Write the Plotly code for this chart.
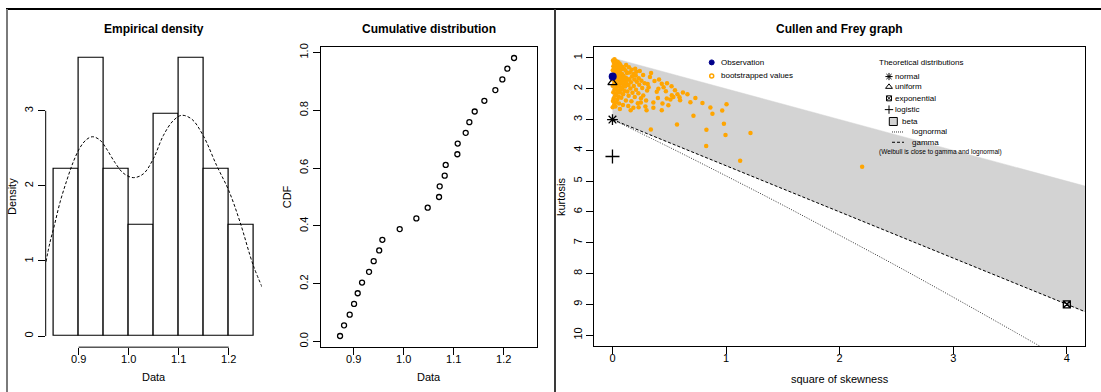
import plotly.graph_objects as go

W, H = 1101, 392
FONT = "Liberation Sans, Arial, Helvetica, sans-serif"

# ---------------- data ----------------
data_values = [0.8727, 0.8807, 0.892, 0.9007, 0.908, 0.9167, 0.9307, 0.94, 0.951,
               0.9573, 0.992, 1.0253, 1.048, 1.0707, 1.072, 1.082, 1.084, 1.1073,
               1.108, 1.124, 1.1313, 1.142, 1.1613, 1.1833, 1.1973, 1.2073, 1.2207]
cdf_values = [0.019, 0.056, 0.093, 0.130, 0.167, 0.204, 0.241, 0.278, 0.315,
              0.352, 0.389, 0.426, 0.463, 0.500, 0.537, 0.574, 0.611, 0.648,
              0.685, 0.722, 0.759, 0.796, 0.833, 0.870, 0.907, 0.944, 0.981]

dens_x = [0.8346, 0.8426, 0.8512, 0.8626, 0.876, 0.8892, 0.9026, 0.916, 0.928,
          0.9426, 0.956, 0.9726, 0.9892, 1.0092, 1.0292, 1.0492, 1.0692, 1.0892,
          1.106, 1.126, 1.149, 1.176, 1.2, 1.2226, 1.2492, 1.269]
dens_y = [0.99, 1.25, 1.47, 1.78, 2.07, 2.32, 2.51, 2.62, 2.655,
          2.61, 2.49, 2.31, 2.17, 2.11, 2.16, 2.36, 2.67, 2.87,
          2.94, 2.89, 2.67, 2.27, 1.94, 1.52, 0.94, 0.62]

hist_xticks = [0.9, 1.0, 1.1, 1.2]
hist_xlabels = ["0.9", "1.0", "1.1", "1.2"]
hist_yticks = [0, 1, 2, 3]
cdf_yticks = [0.0, 0.2, 0.4, 0.6, 0.8, 1.0]
cdf_ylabels = ["0.0", "0.2", "0.4", "0.6", "0.8", "1.0"]
cf_xticks = [0, 1, 2, 3, 4]
cf_yticks = [1, 2, 3, 4, 5, 6, 7, 8, 9, 10]

# Cullen & Frey: beta region boundaries, lognormal & gamma lines
limit_s2 = [0, 4.2]
limit_kurt = [1, 5.2]
gamma_s2 = [0, 4.2]
gamma_kurt = [3, 9.3]
lognorm_s2 = [0, 0.5, 1.0, 1.5, 2.0, 2.5, 3.0, 3.5, 3.9]
lognorm_kurt = [3, 3.90, 4.83, 5.78, 6.76, 7.75, 8.77, 9.81, 10.65]

obs_s2 = [0.002]
obs_kurt = [1.60]
normal_pt = ([0], [3])
uniform_pt = ([0], [1.8])
logistic_pt = ([0], [4.2])
expo_pt = ([4], [9])

# bootstrapped (square of skewness, kurtosis) values
boot_s2 = [
    # dense core
    0.005, 0.018, 0.031, 0.012, 0.047, 0.062, 0.024, 0.008, 0.039, 0.071, 0.088, 0.055,
    0.016, 0.003, 0.029, 0.046, 0.077, 0.101, 0.115, 0.064, 0.021, 0.009, 0.037, 0.052,
    0.083, 0.097, 0.128, 0.014, 0.041, 0.069, 0.092, 0.118, 0.005, 0.027, 0.058, 0.079,
    0.106, 0.135, 0.017, 0.044, 0.073, 0.098, 0.121, 0.002, 0.033, 0.061, 0.087, 0.112,
    0.019, 0.049, 0.076, 0.104, 0.007, 0.038, 0.066, 0.094, 0.024, 0.055, 0.011, 0.043,
    0.078, 0.004, 0.031, 0.015, 0.058, 0.002, 0.026,
    # medium
    0.145, 0.168, 0.152, 0.185, 0.172, 0.205, 0.148, 0.193, 0.231, 0.162, 0.214, 0.255,
    0.141, 0.188, 0.236, 0.283, 0.158, 0.207, 0.262, 0.131, 0.176, 0.228, 0.305, 0.142,
    0.196, 0.251, 0.118, 0.167, 0.223, 0.092, 0.139, 0.184, 0.065, 0.271, 0.318, 0.296,
    0.120, 0.210,
    0.33, 0.37, 0.41, 0.45, 0.39, 0.47, 0.51, 0.55, 0.59, 0.62, 0.44, 0.29,
    0.36, 0.25, 0.31, 0.27, 0.24, 0.20, 0.23, 0.16, 0.52, 0.48, 0.40,
    # sparse
    0.340, 0.434, 0.404, 0.522, 0.572, 0.478, 0.360, 0.300, 0.434, 0.492, 0.536,
    0.660, 0.730, 0.686, 0.792, 1.004, 0.862, 0.966, 0.880, 0.713, 0.981, 0.827,
    0.995, 1.215, 0.825, 1.124, 2.198, 0.595, 0.338, 0.568,
]
boot_kurt = [
    # dense core
    1.08, 1.04, 1.11, 1.16, 1.13, 1.18, 1.22, 1.27, 1.25, 1.24, 1.29, 1.31,
    1.34, 1.40, 1.38, 1.42, 1.37, 1.35, 1.41, 1.46, 1.48, 1.55, 1.53, 1.57,
    1.51, 1.58, 1.49, 1.63, 1.66, 1.62, 1.68, 1.64, 1.71, 1.74, 1.72, 1.78,
    1.75, 1.71, 1.82, 1.85, 1.83, 1.88, 1.81, 1.90, 1.94, 1.92, 1.97, 1.93,
    2.02, 2.05, 2.01, 2.07, 2.11, 2.14, 2.12, 2.18, 2.22, 2.26, 2.31, 2.35,
    2.29, 2.40, 2.44, 2.52, 2.48, 2.60, 2.58,
    # medium
    1.30, 1.38, 1.47, 1.52, 1.60, 1.57, 1.69, 1.70, 1.66, 1.79, 1.77, 1.74,
    1.88, 1.91, 1.87, 1.82, 1.99, 2.03, 1.98, 2.09, 2.13, 2.15, 2.06, 2.23,
    2.27, 2.31, 2.38, 2.41, 2.47, 2.53, 2.56, 2.62, 2.66, 2.22, 1.95, 2.38,
    1.23, 1.45,
    1.62, 1.75, 1.70, 1.95, 2.10, 2.08, 2.35, 2.05, 2.28, 2.12, 2.48, 2.58,
    2.62, 2.45, 1.85, 1.55, 1.42, 1.35, 2.60, 2.70, 1.92, 1.82, 2.30,
    # sparse
    1.49, 1.84, 2.00, 2.21, 2.18, 2.32, 2.45, 2.70, 2.70, 2.54, 2.27,
    2.18, 2.30, 2.44, 2.46, 2.50, 2.61, 2.71, 2.81, 2.88, 3.14, 3.33,
    3.50, 3.44, 3.86, 4.34, 4.53, 2.37, 3.32, 3.16,
]

# ---------------- figure ----------------
fig = go.Figure()

# Empirical density
fig.add_trace(go.Histogram(
    x=data_values, xbins=dict(start=0.85, end=1.25, size=0.05),
    histnorm="probability density",
    marker=dict(color="white", line=dict(color="black", width=1.2)),
    xaxis="x", yaxis="y", hoverinfo="skip"))
fig.add_trace(go.Scatter(
    x=dens_x, y=dens_y, mode="lines",
    line=dict(color="black", width=1, dash="3px,2px", shape="spline"),
    xaxis="x", yaxis="y"))

# Cumulative distribution
fig.add_trace(go.Scatter(
    x=data_values, y=cdf_values, mode="markers",
    marker=dict(symbol="circle-open", size=5, color="black", line=dict(width=1.3)),
    xaxis="x2", yaxis="y2"))

# Cullen and Frey
fig.add_trace(go.Scatter(
    x=limit_s2 + gamma_s2[::-1], y=limit_kurt + gamma_kurt[::-1],
    mode="lines", fill="toself", fillcolor="#D3D3D3",
    line=dict(color="#D3D3D3", width=0.5), xaxis="x3", yaxis="y3"))
fig.add_trace(go.Scatter(
    x=lognorm_s2, y=lognorm_kurt, mode="lines",
    line=dict(color="black", width=0.8, dash="1px,1.5px", shape="spline"),
    xaxis="x3", yaxis="y3"))
fig.add_trace(go.Scatter(
    x=gamma_s2, y=gamma_kurt, mode="lines",
    line=dict(color="black", width=1, dash="3px,2px"),
    xaxis="x3", yaxis="y3"))
fig.add_trace(go.Scatter(
    x=boot_s2, y=boot_kurt, mode="markers",
    marker=dict(symbol="circle", size=4.5, color="#FFA500"),
    xaxis="x3", yaxis="y3"))
for (px, py), sym, sz in [(normal_pt, "asterisk-open", 9), (uniform_pt, "triangle-up-open", 8),
                          (logistic_pt, "cross-thin-open", 10), (expo_pt, "square-x-open", 7)]:
    fig.add_trace(go.Scatter(
        x=px, y=py, mode="markers",
        marker=dict(symbol=sym, size=sz, color="black", line=dict(width=1.3, color="black")),
        xaxis="x3", yaxis="y3", cliponaxis=False))
fig.add_trace(go.Scatter(
    x=obs_s2, y=obs_kurt, mode="markers",
    marker=dict(symbol="circle", size=8, color="#00008B"),
    xaxis="x3", yaxis="y3", cliponaxis=False))

# ---------- legend glyphs in pixel space (overlay axis) ----------
leg_markers = [
    (711.7, 59.0, "circle", 5, "#00008B", 1),
    (711.7, 72.7, "circle-open", 4, "#FFA500", 1.5),
    (889.0, 73.3, "asterisk-open", 6, "black", 1),
    (889.0, 83.7, "triangle-up-open", 6, "black", 1),
    (889.0, 95.3, "square-x-open", 5, "black", 1),
    (889.0, 106.7, "cross-thin-open", 6, "black", 1),
]
for x, y, sym, sz, col, lw in leg_markers:
    fig.add_trace(go.Scatter(x=[x], y=[y], mode="markers",
                             marker=dict(symbol=sym, size=sz, color=col, line=dict(width=lw, color=col)),
                             xaxis="x4", yaxis="y4", cliponaxis=False))
fig.add_trace(go.Scatter(x=[893.3], y=[118.7], mode="markers",
                         marker=dict(symbol="square", size=8, color="#D3D3D3", line=dict(width=1, color="black")),
                         xaxis="x4", yaxis="y4", cliponaxis=False))
fig.add_trace(go.Scatter(x=[892, 904], y=[129.3, 129.3], mode="lines",
                         line=dict(color="black", width=0.8, dash="1px,1px"), xaxis="x4", yaxis="y4"))
fig.add_trace(go.Scatter(x=[892, 904], y=[139.7, 139.7], mode="lines",
                         line=dict(color="black", width=1, dash="3px,2px"), xaxis="x4", yaxis="y4"))

def px2x(p):
    return p / W

def py2y(p):
    return 1 - p / H

axis_common = dict(showgrid=False, zeroline=False, ticks="outside", ticklen=7,
                   tickwidth=1, tickcolor="black", tickfont=dict(size=11, color="black", family=FONT),
                   fixedrange=True)

fig.update_layout(
    width=W, height=H, margin=dict(l=0, r=0, t=0, b=0),
    paper_bgcolor="white", plot_bgcolor="rgba(0,0,0,0)",
    showlegend=False, bargap=0,
    font=dict(family=FONT, size=11, color="black"),
    xaxis=dict(domain=[px2x(45.7), px2x(261.7)], range=[0.834, 1.266], anchor="y",
               tickvals=hist_xticks, ticktext=hist_xlabels, showline=False,
               ticklabelstandoff=-5, **axis_common),
    yaxis=dict(domain=[py2y(346.7), py2y(43.3)], range=[-0.148, 3.852], anchor="x",
               tickvals=hist_yticks, tickangle=-90, showline=False, **axis_common),
    xaxis2=dict(domain=[px2x(320.7), px2x(536.7)], range=[0.834, 1.266], anchor="y2",
                tickvals=hist_xticks, ticktext=hist_xlabels, showline=True, mirror=True,
                linecolor="black", linewidth=1, ticklabelstandoff=-5, **axis_common),
    yaxis2=dict(domain=[py2y(346.7), py2y(43.3)], range=[-0.0196, 1.0196], anchor="x2",
                tickvals=cdf_yticks, ticktext=cdf_ylabels, tickangle=-90, showline=True, mirror=True,
                linecolor="black", linewidth=1, **axis_common),
    xaxis3=dict(domain=[px2x(594.3), px2x(1085)], range=[-0.16, 4.16], anchor="y3",
                tickvals=cf_xticks, showline=True, mirror=True, linecolor="black", linewidth=1,
                ticklabelstandoff=-5, **axis_common),
    yaxis3=dict(domain=[py2y(345.7), py2y(43.3)], range=[10.36, 0.64], anchor="x3",
                tickvals=cf_yticks, tickangle=-90, showline=True, mirror=True, linecolor="black",
                linewidth=1, **axis_common),
    xaxis4=dict(domain=[0, 1], range=[0, W], visible=False, anchor="y4", fixedrange=True),
    yaxis4=dict(domain=[0, 1], range=[H, 0], visible=False, anchor="x4", fixedrange=True),
)

shapes = [
    # histogram axis lines (R style: span first to last tick)
    dict(type="line", xref="x", yref="y domain", x0=hist_xticks[0], x1=hist_xticks[-1], y0=0, y1=0,
         line=dict(color="black", width=1)),
    dict(type="line", xref="x domain", yref="y", x0=0, x1=0, y0=hist_yticks[0], y1=hist_yticks[-1],
         line=dict(color="black", width=1)),
    # page frame lines
    dict(type="line", xref="x4", yref="y4", x0=6, x1=W, y0=5, y1=5, line=dict(color="black", width=2)),
    dict(type="line", xref="x4", yref="y4", x0=7, x1=7, y0=5, y1=H, line=dict(color="#7a7a7a", width=2)),
    dict(type="line", xref="x4", yref="y4", x0=555, x1=555, y0=5, y1=H, line=dict(color="#3a3a3a", width=2)),
]
fig.update_layout(shapes=shapes)

def ann(x, y, text, size=11, bold=False, angle=0, xanchor="center"):
    return dict(xref="x4", yref="y4", x=x, y=y, text=f"<b>{text}</b>" if bold else text,
                showarrow=False, textangle=angle, xanchor=xanchor, yanchor="middle",
                font=dict(family=FONT, size=size, color="black"))

annotations = [
    ann(153.7, 25, "Empirical density", 12, True),
    ann(428.7, 25, "Cumulative distribution", 12, True),
    ann(839.7, 25, "Cullen and Frey graph", 12, True),
    ann(153.7, 377, "Data"),
    ann(428.7, 377, "Data"),
    ann(839.7, 379, "square of skewness"),
    ann(12, 195, "Density", angle=-90),
    ann(287.3, 195, "CDF", angle=-90),
    ann(561, 195, "kurtosis", angle=-90),
    ann(718.6, 59, "Observation", 8, xanchor="left"),
    ann(718.6, 72.7, "bootstrapped values", 8, xanchor="left"),
    ann(876.7, 59, "Theoretical distributions", 8, xanchor="left"),
    ann(893, 73.3, "normal", 8, xanchor="left"),
    ann(893, 83.7, "uniform", 8, xanchor="left"),
    ann(893, 95.3, "exponential", 8, xanchor="left"),
    ann(893, 106.7, "logistic", 8, xanchor="left"),
    ann(900, 118.7, "beta", 8, xanchor="left"),
    ann(910, 129.3, "lognormal", 8, xanchor="left"),
    ann(910, 139.7, "gamma", 8, xanchor="left"),
    ann(876.7, 150, "(Weibull is close to gamma and lognormal)", 6.5, xanchor="left"),
]
fig.update_layout(annotations=annotations)

fig.write_html("out.html")
